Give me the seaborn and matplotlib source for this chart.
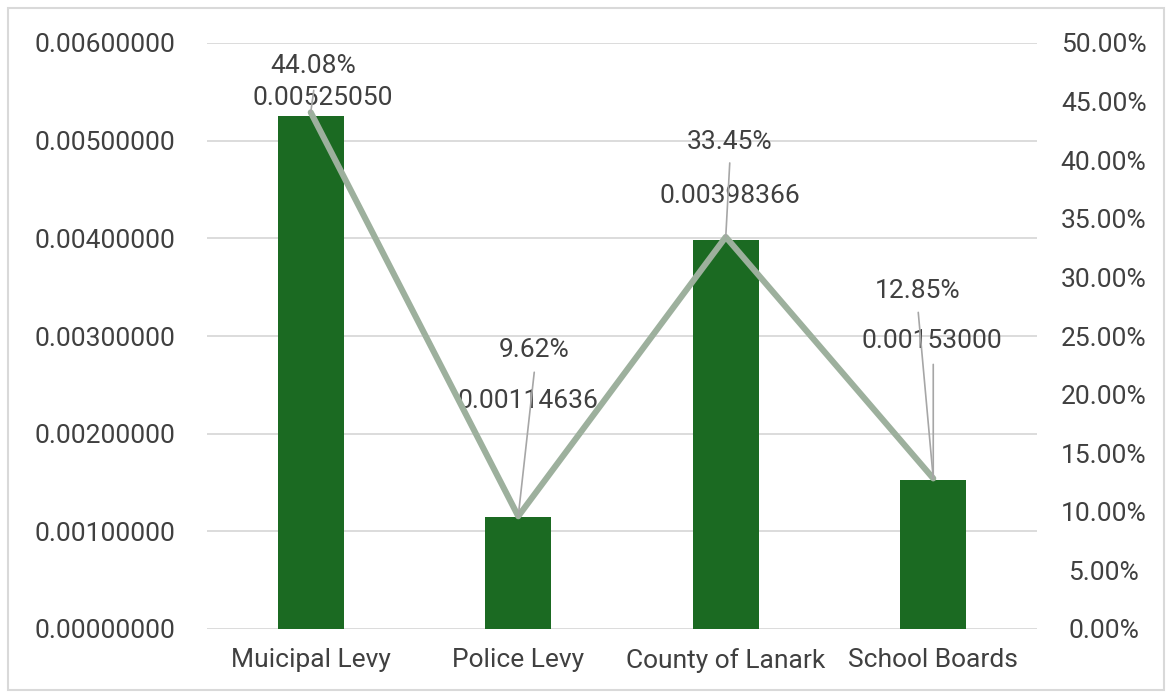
import numpy as np
import pandas as pd
import matplotlib
matplotlib.use("Agg")
import matplotlib.pyplot as plt
import matplotlib.patches as mpatches
import seaborn as sns

# Levy categories and their rates
categories = ["Muicipal Levy", "Police Levy", "County of Lanark", "School Boards"]
rates = [0.00525050, 0.00114636, 0.00398366, 0.00153000]
shares = [44.08, 9.62, 33.45, 12.85]  # percent of total rate

left_ticks = [0.000, 0.001, 0.002, 0.003, 0.004, 0.005, 0.006]
right_ticks = [0, 5, 10, 15, 20, 25, 30, 35, 40, 45, 50]

BAR = "#1b6a22"
LINE = "#9db09d"
TEXT = "#404040"
GRID = "#d9d9d9"
LEADER = "#a6a6a6"

sns.set_theme(style="white")
plt.rcParams["font.family"] = ["Roboto", "DejaVu Sans"]
FS = 19

fig = plt.figure(figsize=(11.72, 6.98), dpi=100)
ax = fig.add_axes([207 / 1172, 1 - 629 / 698, (1037 - 207) / 1172, (629 - 43) / 698])

df = pd.DataFrame({"category": categories, "rate": rates})
sns.barplot(data=df, x="category", y="rate", color=BAR, saturation=1,
            width=0.32, linewidth=0, ax=ax, zorder=3)
ax.set_xlim(-0.5, 3.5)
ax.set_ylim(0, 0.006)
ax.set_yticks(left_ticks)
ax.set_yticklabels([f"{v:.8f}" for v in left_ticks])
ax.yaxis.grid(True, color=GRID, lw=1.3, zorder=0)
ax.set_axisbelow(True)
for s in ax.spines.values():
    s.set_visible(False)
ax.set_xlabel("")
ax.set_ylabel("")
ax.tick_params(axis="y", length=0, pad=23, labelsize=FS, labelcolor=TEXT)
ax.tick_params(axis="x", length=0, pad=14, labelsize=FS, labelcolor=TEXT)

ax2 = ax.twinx()
sns.lineplot(x=np.arange(len(categories)), y=shares, color=LINE, lw=4.4,
             ax=ax2, zorder=4)
ax2.set_ylim(0, 50)
ax2.set_yticks(right_ticks)
ax2.set_yticklabels([f"{v:.2f}%" for v in right_ticks])
for t in ax2.get_yticklabels():
    t.set_horizontalalignment("center")
ax2.tick_params(axis="y", length=0, pad=48, labelsize=FS, labelcolor=TEXT)
for s in ax2.spines.values():
    s.set_visible(False)
ax2.set_ylabel("")
ax2.grid(False)

# label offsets in pixels: (percent label, rate label) relative to line point / bar top
pct_off = [(2, 46), (16, 166), (4, 95), (-16, 187)]
rate_off = [(12, 18), (10, 116), (4, 44), (-1, 139)]
for i in range(len(categories)):
    ax2.annotate(f"{shares[i]:.2f}%", xy=(i, shares[i]), xytext=pct_off[i],
                 textcoords="offset pixels", ha="center", va="center",
                 fontsize=FS, color=TEXT, zorder=6)
    ax.annotate(f"{rates[i]:.8f}", xy=(i, rates[i]), xytext=rate_off[i],
                textcoords="offset pixels", ha="center", va="center",
                fontsize=FS, color=TEXT, zorder=6)

# leader lines from labels down to their points
leaders = [(0, (3, 22)), (1, (16, 144)), (2, (4, 74)), (3, (-15, 166))]
for i, start in leaders:
    ax2.annotate("", xy=(i, shares[i]), xytext=start, textcoords="offset pixels",
                 arrowprops=dict(arrowstyle="-", color=LEADER, lw=1.2,
                                 shrinkA=0, shrinkB=0), zorder=5)
ax2.annotate("", xy=(3, shares[3]), xytext=(0, 114), textcoords="offset pixels",
             arrowprops=dict(arrowstyle="-", color=LEADER, lw=1.2,
                             shrinkA=0, shrinkB=0), zorder=5)

fig.patches.append(mpatches.Rectangle((8 / 1172, 8 / 698), 1156 / 1172, 682 / 698,
                                      transform=fig.transFigure, fill=False,
                                      edgecolor=GRID, lw=1.5))

fig.savefig("out.png", dpi=100)
